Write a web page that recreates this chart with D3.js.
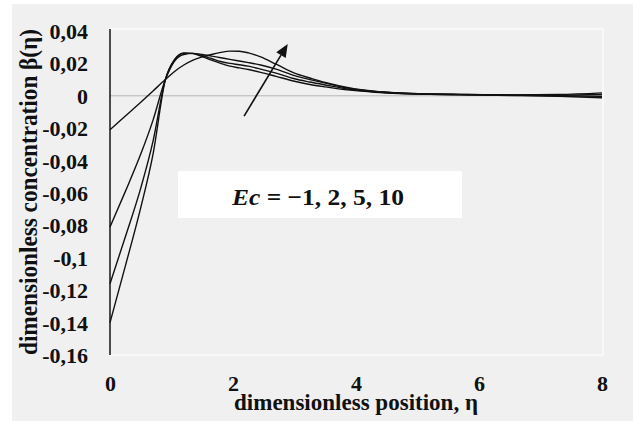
<!DOCTYPE html>
<html>
<head>
<meta charset="utf-8">
<script src="https://cdn.jsdelivr.net/npm/d3@7"></script>
<style>
  html, body { margin: 0; padding: 0; background: #ffffff; }
  svg { display: block; }
  text { font-family: "Liberation Serif", "Times New Roman", serif; font-weight: bold; fill: #111; }
</style>
</head>
<body>
<svg id="chart" width="633" height="421"></svg>
<script>
// Dimensionless position grid
const eta = [0, 0.25, 0.5, 0.7, 0.9, 1.05, 1.2, 1.35, 1.5, 1.65, 1.8, 1.95, 2.1, 2.25, 2.45, 2.7, 3.0, 3.25, 3.5, 3.9, 4.3, 4.7, 5.2, 5.7, 6.5, 7.3, 8];

// Concentration profiles beta(eta) for each Eckert number
const betaEcM1 = [-0.140, -0.105, -0.069, -0.036, 0.0098, 0.0225, 0.0265, 0.0260, 0.0242, 0.0220, 0.0200, 0.0183, 0.0172, 0.0162, 0.0145, 0.0120, 0.0090, 0.0070, 0.0055, 0.0035, 0.0022, 0.0014, 0.0009, 0.0006, 0.0002, -0.0003, -0.0012];
const betaEc2  = [-0.116, -0.087, -0.057, -0.028, 0.0100, 0.0220, 0.0262, 0.0262, 0.0248, 0.0230, 0.0212, 0.0200, 0.0192, 0.0183, 0.0165, 0.0140, 0.0105, 0.0085, 0.0067, 0.0040, 0.0025, 0.0016, 0.0010, 0.0007, 0.0003, 0.0000, -0.0004];
const betaEc5  = [-0.081, -0.059, -0.036, -0.015, 0.0100, 0.0215, 0.0255, 0.0262, 0.0255, 0.0245, 0.0235, 0.0225, 0.0215, 0.0205, 0.0190, 0.0165, 0.0125, 0.0100, 0.0078, 0.0045, 0.0027, 0.0017, 0.0011, 0.0008, 0.0005, 0.0004, 0.0008];
const betaEc10 = [-0.021, -0.0125, -0.0040, 0.0030, 0.0100, 0.0150, 0.0190, 0.0220, 0.0240, 0.0255, 0.0268, 0.0276, 0.0275, 0.0265, 0.0240, 0.0195, 0.0140, 0.0110, 0.0082, 0.0048, 0.0028, 0.0018, 0.0012, 0.0009, 0.0006, 0.0008, 0.0018];

const seriesNames = ["Ec = -1", "Ec = 2", "Ec = 5", "Ec = 10"];
const seriesValues = [betaEcM1, betaEc2, betaEc5, betaEc10];

// Axis ticks and labels
const xTicks = [0, 2, 4, 6, 8];
const yTicks = [0.04, 0.02, 0, -0.02, -0.04, -0.06, -0.08, -0.1, -0.12, -0.14, -0.16];
const yTickLabels = ["0,04", "0,02", "0", "-0,02", "-0,04", "-0,06", "-0,08", "-0,1", "-0,12", "-0,14", "-0,16"];

// Trend arrow (data units): from tail to head
const arrowEta = [2.18, 2.89];
const arrowBeta = [-0.0125, 0.032];

const svg = d3.select("#chart");
const W = 633, H = 421;
const plot = { left: 110, right: 602, top: 31, bottom: 355 };

const x = d3.scaleLinear().domain([0, 8]).range([plot.left, plot.right]);
const y = d3.scaleLinear().domain([-0.16, 0.04]).range([plot.bottom, plot.top]);

// Chart background
svg.append("rect").attr("x", 12).attr("y", 4).attr("width", W - 12).attr("height", H - 4).attr("fill", "#f0f0f0");
// Plot-area frame (faint)
svg.append("rect")
  .attr("x", plot.left).attr("y", plot.top - 2)
  .attr("width", plot.right - plot.left + 1).attr("height", plot.bottom - plot.top + 2)
  .attr("fill", "none").attr("stroke", "#fbfbfb").attr("stroke-width", 1.5);

// Zero reference line
svg.append("line")
  .attr("x1", x(0)).attr("x2", x(8))
  .attr("y1", y(0)).attr("y2", y(0))
  .attr("stroke", "#b4b4b4").attr("stroke-width", 1);

// Legend label box
const lg = svg.append("g");
lg.append("rect").attr("x", 178).attr("y", 171).attr("width", 284).attr("height", 47).attr("fill", "#ffffff");
const lt = lg.append("text").attr("x", 232).attr("y", 205).attr("font-size", 24)
  .attr("textLength", 172).attr("lengthAdjust", "spacingAndGlyphs");
lt.append("tspan").attr("font-style", "italic").text("Ec");
lt.append("tspan").text(" = \u22121, 2, 5, 10");

// Y axis (line + labels)
const yAxis = d3.axisLeft(y).tickValues(yTicks).tickSize(0).tickPadding(22)
  .tickFormat((d, i) => yTickLabels[i]);
const gy = svg.append("g").attr("transform", `translate(${plot.left},0)`).call(yAxis);
gy.select(".domain").attr("stroke", "#111").attr("stroke-width", 1.5)
  .attr("d", `M0,${plot.top - 2}V${plot.bottom}`);
gy.selectAll("text").attr("font-size", 22).attr("font-family", "Liberation Serif, serif")
  .attr("font-weight", "bold").attr("fill", "#111").attr("dy", "0.34em");

// X axis labels (no axis line)
const xAxis = d3.axisBottom(x).tickValues(xTicks).tickSize(0).tickPadding(20).tickFormat(d3.format("d"));
const gx = svg.append("g").attr("transform", `translate(0,${plot.bottom})`).call(xAxis);
gx.select(".domain").remove();
gx.selectAll("text").attr("font-size", 22).attr("font-family", "Liberation Serif, serif")
  .attr("font-weight", "bold").attr("fill", "#111");

// Curves
const line = d3.line().x((d, i) => x(eta[i])).y(d => y(d)).curve(d3.curveMonotoneX);
svg.append("g").selectAll("path").data(seriesValues).join("path")
  .attr("d", d => line(d))
  .attr("fill", "none").attr("stroke", "#111").attr("stroke-width", 1.4)
  .attr("data-name", (d, i) => seriesNames[i]);

// Trend arrow
const ax0 = x(arrowEta[0]), ay0 = y(arrowBeta[0]), ax1 = x(arrowEta[1]), ay1 = y(arrowBeta[1]);
const ang = Math.atan2(ay1 - ay0, ax1 - ax0);
const headLen = 13, headHalf = 5.5;
const bx = ax1 - headLen * Math.cos(ang), by = ay1 - headLen * Math.sin(ang);
svg.append("line").attr("x1", ax0).attr("y1", ay0).attr("x2", bx).attr("y2", by)
  .attr("stroke", "#111").attr("stroke-width", 1.6);
svg.append("path")
  .attr("d", `M${ax1},${ay1}L${bx - headHalf * Math.sin(ang)},${by + headHalf * Math.cos(ang)}L${bx + headHalf * Math.sin(ang)},${by - headHalf * Math.cos(ang)}Z`)
  .attr("fill", "#111");

// Axis titles
svg.append("text").attr("x", (x(0) + x(8)) / 2).attr("y", 410).attr("text-anchor", "middle")
  .attr("font-size", 24).attr("textLength", 244).attr("lengthAdjust", "spacingAndGlyphs")
  .text("dimensionless position, \u03b7");
svg.append("text").attr("transform", "translate(37,192) rotate(-90)").attr("text-anchor", "middle")
  .attr("font-size", 25).attr("textLength", 326).attr("lengthAdjust", "spacingAndGlyphs")
  .text("dimensionless concentration \u03b2(\u03b7)");
</script>
</body>
</html>
